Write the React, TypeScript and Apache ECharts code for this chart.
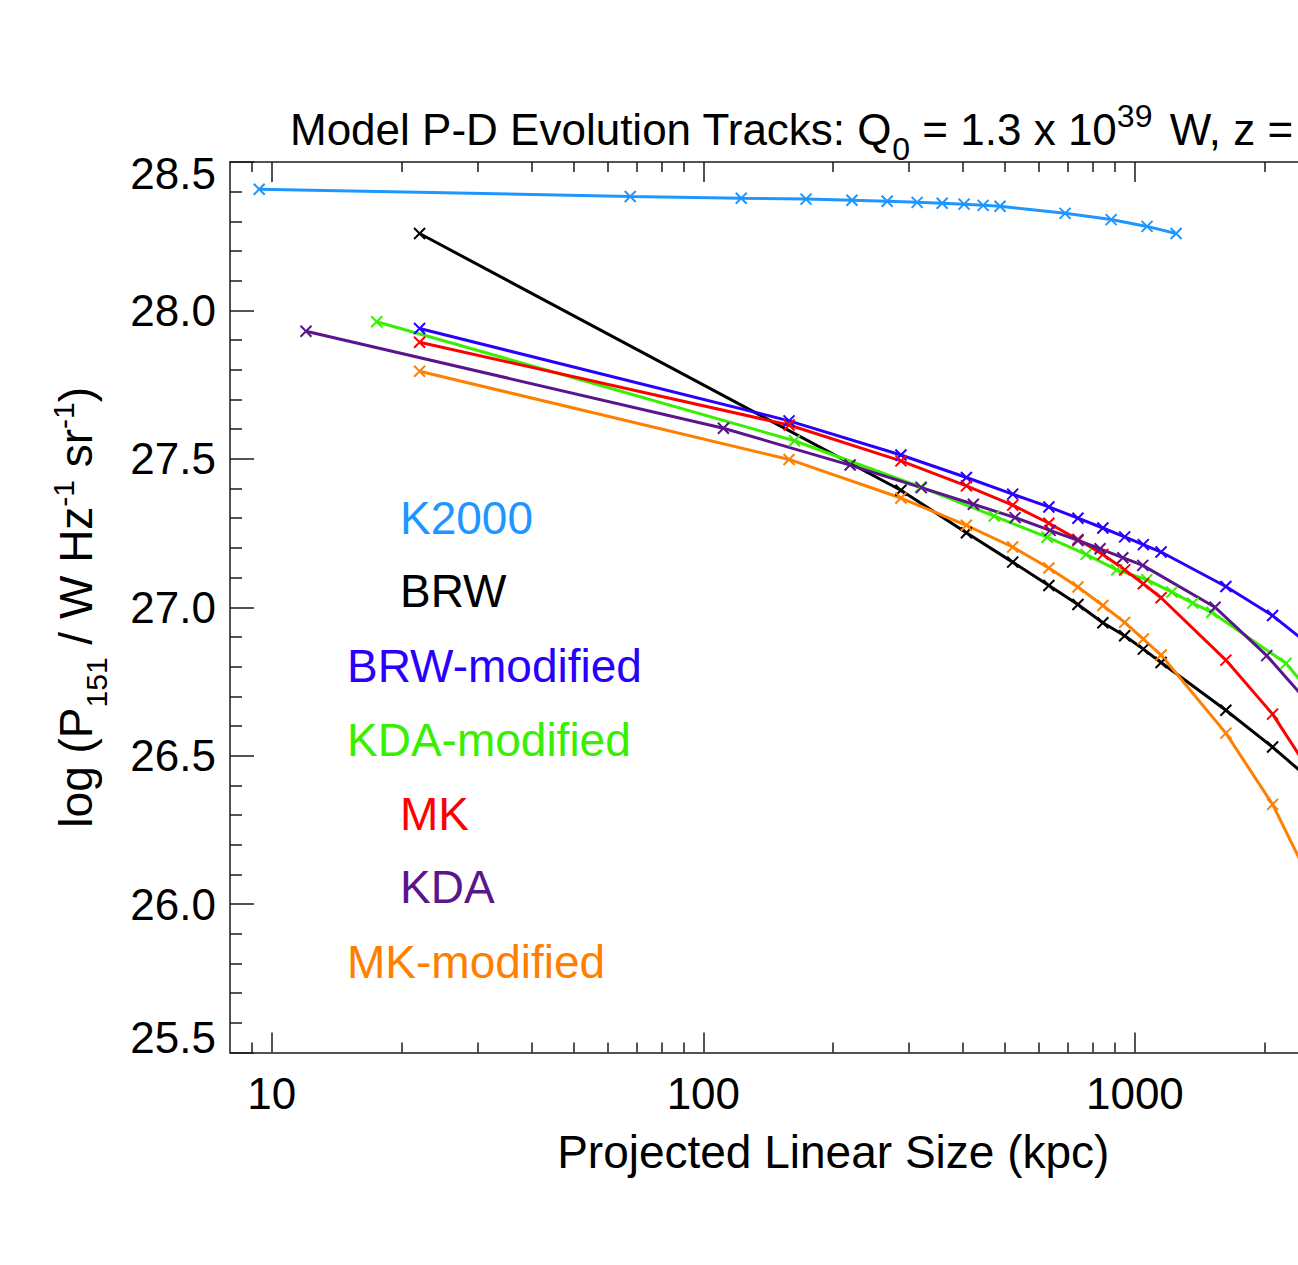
import React, { useEffect, useRef } from "react";
import * as echarts from "echarts";

const FONT = "'Liberation Sans', Arial, Helvetica, sans-serif";

// ---- data ----
const seriesNames = ["K2000", "BRW", "BRW-modified", "KDA-modified", "MK", "KDA", "MK-modified"];
const seriesColors = ["#1E96FF", "#000000", "#2800FF", "#36F000", "#FF0000", "#5A148C", "#FF8000"];

const k2000X = [9.35, 67.7, 122.4, 173, 221, 266.7, 312.9, 357.6, 402, 445, 487, 689, 881, 1067, 1246];
const k2000Y = [28.408, 28.384, 28.378, 28.375, 28.371, 28.368, 28.364, 28.361, 28.358, 28.354, 28.351, 28.327, 28.306, 28.283, 28.259];

const brwX = [22, 287, 407, 521, 632, 738, 843, 947, 1046, 1150, 1625, 2085, 2685];
const brwY = [28.259, 27.394, 27.251, 27.152, 27.073, 27.009, 26.948, 26.904, 26.859, 26.814, 26.653, 26.529, 26.391];

const brwModX = [22, 158, 287, 407, 521, 632, 738, 843, 947, 1046, 1150, 1625, 2085, 2685];
const brwModY = [27.939, 27.628, 27.513, 27.437, 27.381, 27.338, 27.3, 27.267, 27.237, 27.211, 27.186, 27.07, 26.972, 26.844];

const kdaModX = [17.5, 162.6, 318.8, 471.9, 626, 770.9, 908, 1066, 1218, 1362, 1507, 2240, 2685];
const kdaModY = [27.962, 27.561, 27.405, 27.307, 27.236, 27.178, 27.126, 27.093, 27.051, 27.014, 26.983, 26.811, 26.675];

const mkX = [22, 158, 287, 407, 521, 632, 738, 843, 947, 1046, 1150, 1625, 2085, 2685];
const mkY = [27.893, 27.614, 27.493, 27.409, 27.344, 27.283, 27.228, 27.178, 27.126, 27.079, 27.032, 26.822, 26.64, 26.394];

const kdaX = [12.0, 111.3, 218.8, 320, 422.4, 527.8, 636, 738, 830.5, 937.6, 1043, 1534, 2021, 2685];
const kdaY = [27.93, 27.603, 27.479, 27.403, 27.347, 27.302, 27.259, 27.225, 27.197, 27.167, 27.141, 27.0, 26.837, 26.634];

const mkModX = [22, 158, 287, 407, 521, 632, 738, 843, 947, 1046, 1150, 1625, 2085, 2685];
const mkModY = [27.795, 27.498, 27.368, 27.276, 27.203, 27.132, 27.068, 27.006, 26.949, 26.893, 26.839, 26.576, 26.336, 26.013];

const seriesX = [k2000X, brwX, brwModX, kdaModX, mkX, kdaX, mkModX];
const seriesY = [k2000Y, brwY, brwModY, kdaModY, mkY, kdaY, mkModY];

const X_MIN = 8;
const X_MAX = 5000;
const xMajorTicks = [10, 100, 1000];
const xMinorTicks = [9, 20, 30, 40, 50, 60, 70, 80, 90, 200, 300, 400, 500, 600, 700, 800, 900, 2000, 3000, 4000];
const Y_MIN = 25.5;
const Y_MAX = 28.5;
const Y_STEP = 0.5;

// ---- layout ----
const W = 1298;
const H = 1265;
const CHART_W = 1500; // the plot box runs past the right edge of the picture
const legendX = [400, 400, 347, 347, 400, 400, 347];
const legendY = [518, 591, 666, 740, 814, 887, 962];

const AXIS_COLOR = "#1a1a1a";

const mkRich = (size: number, smallSize: number, supRightPad: number) => ({
  n: { fontSize: size, fontWeight: "normal", lineHeight: 56, fontFamily: FONT, color: "#000", verticalAlign: "middle" },
  sub: { fontSize: smallSize, fontWeight: "normal", lineHeight: 16, fontFamily: FONT, color: "#000", padding: [40, 0, 0, 0], verticalAlign: "middle" },
  sup: { fontSize: smallSize, fontWeight: "normal", lineHeight: 20, fontFamily: FONT, color: "#000", padding: [0, supRightPad, 26, 0], verticalAlign: "middle" },
});

export default function App() {
  const ref = useRef<HTMLDivElement>(null);

  useEffect(() => {
    if (!ref.current) return;
    const chart = echarts.init(ref.current, null, { renderer: "svg" });

    const logAxisBase = {
      type: "log",
      logBase: 10,
      min: X_MIN,
      max: X_MAX,
      gridIndex: 0,
      splitLine: { show: false },
      minorTick: { show: false },
      minorSplitLine: { show: false },
    };

    const option: any = {
      animation: false,
      backgroundColor: "#ffffff",
      title: {
        text: "{n|Model P-D Evolution Tracks: Q}{sub|0}{n| = 1.3 x 10}{sup|39}{n| W, z =}",
        left: 290,
        top: 101,
        padding: 0,
        textStyle: { fontWeight: "normal", rich: mkRich(44, 32, 5) },
      },
      grid: { left: 230, top: 162, right: CHART_W - 1436.5, bottom: 212.5, containLabel: false },
      xAxis: [
        {
          ...logAxisBase,
          position: "bottom",
          axisLine: { show: true, onZero: false, lineStyle: { color: AXIS_COLOR, width: 1.5 } },
          axisTick: { show: true, inside: true, length: 20, customValues: xMajorTicks, lineStyle: { color: AXIS_COLOR, width: 1.5 } },
          axisLabel: {
            show: true,
            customValues: xMajorTicks,
            margin: 14,
            fontSize: 44,
            lineHeight: 54,
            fontFamily: FONT,
            color: "#000",
            formatter: (v: number) => String(Math.round(v)),
          },
          name: "Projected Linear Size (kpc)",
          nameLocation: "middle",
          nameGap: 58,
          nameTextStyle: { fontSize: 46, lineHeight: 54, fontFamily: FONT, color: "#000" },
        },
        {
          ...logAxisBase,
          position: "bottom",
          axisLine: { show: false, onZero: false },
          axisTick: { show: true, inside: true, length: 10, customValues: xMinorTicks, lineStyle: { color: AXIS_COLOR, width: 1.5 } },
          axisLabel: { show: false },
        },
        {
          ...logAxisBase,
          position: "top",
          axisLine: { show: true, onZero: false, lineStyle: { color: AXIS_COLOR, width: 1.5 } },
          axisTick: { show: true, inside: true, length: 20, customValues: xMajorTicks, lineStyle: { color: AXIS_COLOR, width: 1.5 } },
          axisLabel: { show: false },
        },
        {
          ...logAxisBase,
          position: "top",
          axisLine: { show: false, onZero: false },
          axisTick: { show: true, inside: true, length: 10, customValues: xMinorTicks, lineStyle: { color: AXIS_COLOR, width: 1.5 } },
          axisLabel: { show: false },
        },
      ],
      yAxis: [
        {
          type: "value",
          min: Y_MIN,
          max: Y_MAX,
          interval: Y_STEP,
          position: "left",
          splitLine: { show: false },
          axisLine: { show: true, onZero: false, lineStyle: { color: AXIS_COLOR, width: 1.5 } },
          axisTick: { show: true, inside: true, length: 24, lineStyle: { color: AXIS_COLOR, width: 1.5 } },
          minorTick: { show: true, splitNumber: 5, length: 12, lineStyle: { color: AXIS_COLOR, width: 1.5 } },
          axisLabel: {
            show: true,
            margin: 14,
            showMinLabel: true,
            showMaxLabel: true,
            formatter: (v: number) => {
              const s = v.toFixed(1);
              if (Math.abs(v - Y_MAX) < 1e-9) return `{top|${s}}`;
              if (Math.abs(v - Y_MIN) < 1e-9) return `{bot|${s}}`;
              return `{mid|${s}}`;
            },
            rich: {
              mid: { fontSize: 44, lineHeight: 50, fontFamily: FONT, color: "#000" },
              top: { fontSize: 44, lineHeight: 50, fontFamily: FONT, color: "#000", padding: [22, 0, 0, 0] },
              bot: { fontSize: 44, lineHeight: 50, fontFamily: FONT, color: "#000", padding: [0, 0, 30, 0] },
            },
          },
          name: "{n|log (P}{sub|151}{n| / W Hz}{sup|-1}{n| sr}{sup|-1}{n|)}",
          nameLocation: "middle",
          nameRotate: 90,
          nameGap: 126,
          nameTextStyle: { rich: mkRich(46, 30, 0) },
        },
      ],
      series: seriesNames.map((name, i) => ({
        name,
        type: "line",
        xAxisIndex: 0,
        yAxisIndex: 0,
        data: seriesX[i].map((x, j) => [x, seriesY[i][j]]),
        symbol: "path://M0,0L10,10M10,0L0,10",
        symbolSize: 11,
        showSymbol: true,
        itemStyle: { color: seriesColors[i], borderColor: seriesColors[i], borderWidth: 2 },
        lineStyle: { color: seriesColors[i], width: 3 },
        clip: true,
        silent: true,
      })),
      graphic: seriesNames.map((name, i) => ({
        type: "text",
        x: legendX[i],
        y: legendY[i],
        style: {
          text: name,
          fill: seriesColors[i],
          fontSize: 46,
          fontFamily: FONT,
          verticalAlign: "middle",
          align: "left",
        },
      })),
    };

    chart.setOption(option);
    return () => chart.dispose();
  }, []);

  return (
    <div
      style={{
        position: "fixed",
        left: 0,
        top: 0,
        width: W,
        height: H,
        overflow: "hidden",
        background: "#ffffff",
      }}
    >
      <div ref={ref} style={{ width: CHART_W, height: H }} />
    </div>
  );
}
